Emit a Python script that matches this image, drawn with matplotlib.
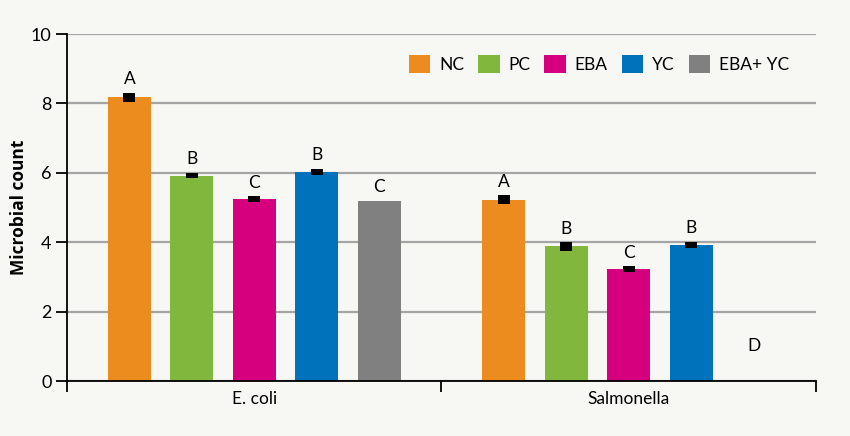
import numpy as np
import matplotlib.pyplot as plt
from matplotlib.patches import Patch

# values
groups = ['E. coli', 'Salmonella']
treatments = ['NC', 'PC', 'EBA', 'YC', 'EBA+ YC']
ecoli = [8.18, 5.92, 5.24, 6.03, 5.19]
salmonella = [5.22, 3.88, 3.23, 3.92, 0.0]
ecoli_err = [0.13, 0.08, 0.09, 0.09, 0.0]
salmonella_err = [0.13, 0.12, 0.08, 0.10, 0.0]
ecoli_letters = ['A', 'B', 'C', 'B', 'C']
salmonella_letters = ['A', 'B', 'C', 'B', 'D']
d_label_y = 1.0

colors = ['#ec8c1f', '#80b73c', '#d6007f', '#0071bb', '#808080']

plt.rcParams['font.family'] = ['Lato', 'DejaVu Sans']
bg = '#f7f7f3'

fig = plt.figure(figsize=(8.5, 4.36), dpi=100, facecolor=bg)
ax = fig.add_axes([0.0788, 0.1261, 0.8812, 0.7959], facecolor=bg)

n = len(treatments)
slot = n + 1
width = 0.69
for g, (vals, errs, letters) in enumerate([(ecoli, ecoli_err, ecoli_letters),
                                           (salmonella, salmonella_err, salmonella_letters)]):
    xs = g * slot + np.arange(1, n + 1)
    ax.bar(xs, vals, width=width, color=colors, zorder=3)
    for x, v, e, lab in zip(xs, vals, errs, letters):
        if e > 0:
            ax.errorbar(x, v, yerr=e, fmt='none', ecolor='black', elinewidth=8.6,
                        capsize=0, zorder=4)
        if v > 0:
            ax.annotate(lab, (x, v + e), xytext=(0, 4), textcoords='offset points',
                        ha='center', va='bottom', fontsize=12.5)
        else:
            ax.text(x, d_label_y, lab, ha='center', va='center', fontsize=12.5)

ax.set_xlim(0, 2 * slot)
ax.set_ylim(0, 10)
ax.set_yticks(np.arange(0, 11, 2))
ax.tick_params(axis='y', direction='out', length=8, width=1.3, labelsize=13, pad=3)
ax.set_xticks([0, slot, 2 * slot])
ax.set_xticklabels([])
ax.tick_params(axis='x', direction='out', length=8, width=1.3)
for g, name in enumerate(groups):
    ax.text(g * slot + slot / 2, -0.3, name, ha='center', va='top', fontsize=12.5)

ax.yaxis.grid(True, color='#a5a5a5', linewidth=1.6, zorder=0)
ax.set_axisbelow(True)
for s in ['top', 'right']:
    ax.spines[s].set_visible(False)
for s in ['left', 'bottom']:
    ax.spines[s].set_linewidth(1.3)
    ax.spines[s].set_zorder(5)

ax.set_ylabel('Microbial count', fontsize=12.5, fontweight='bold', labelpad=2,
              family=['Open Sans', 'DejaVu Sans'])

handles = [Patch(facecolor=c, edgecolor='none') for c in colors]
ax.legend(handles, treatments, ncol=5, frameon=False, loc='upper right',
          bbox_to_anchor=(0.985, 0.985), fontsize=12.5, handlelength=1.25,
          handleheight=1.25, handletextpad=0.5, columnspacing=0.8)

fig.savefig('out.png', dpi=100, facecolor=bg)
